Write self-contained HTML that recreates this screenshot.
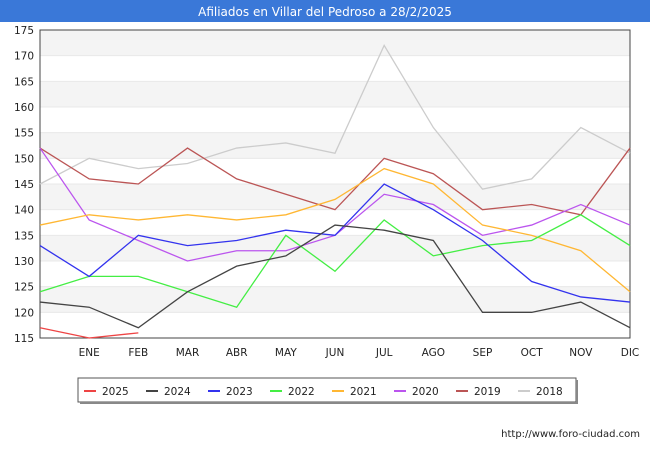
<!DOCTYPE html>
<html><head><meta charset="utf-8"><style>
body{margin:0;width:650px;height:450px;background:#fff;font-family:"DejaVu Sans","Liberation Sans",sans-serif;overflow:hidden}
svg text{font-family:"DejaVu Sans","Liberation Sans",sans-serif}
</style></head><body>
<svg width="650" height="450" xmlns="http://www.w3.org/2000/svg">
<rect x="0" y="0" width="650" height="22" fill="#3a78d8"/>
<text x="325" y="16" text-anchor="middle" fill="#fff" font-size="12">Afiliados en Villar del Pedroso a 28/2/2025</text>
<g id="bands"></g>
<g id="grid"></g>
<rect x="40" y="30" width="590" height="308" fill="none" stroke="#444" stroke-width="1"/>
<g id="series"></g>
<g id="axes"></g>
<g id="legend"></g>
<text x="640" y="437" text-anchor="end" font-size="10" fill="#222">http://www.foro-ciudad.com</text>
</svg>
<script>
const months=["","ENE","FEB","MAR","ABR","MAY","JUN","JUL","AGO","SEP","OCT","NOV","DIC"];
const yTicks=[115,120,125,130,135,140,145,150,155,160,165,170,175];
const seriesNames=["2025","2024","2023","2022","2021","2020","2019","2018"];
const colors=["#ee4444","#444444","#3333ee","#44ee44","#ffb733","#bb55ee","#bb5555","#cccccc"];
const s2025=[117,115,116];
const s2024=[122,121,117,124,129,131,137,136,134,120,120,122,117];
const s2023=[133,127,135,133,134,136,135,145,140,134,126,123,122];
const s2022=[124,127,127,124,121,135,128,138,131,133,134,139,133];
const s2021=[137,139,138,139,138,139,142,148,145,137,135,132,124];
const s2020=[152,138,134,130,132,132,135,143,141,135,137,141,137];
const s2019=[152,146,145,152,146,143,140,150,147,140,141,139,152];
const s2018=[145,150,148,149,152,153,151,172,156,144,146,156,151];
const allSeries=[s2025,s2024,s2023,s2022,s2021,s2020,s2019,s2018];
const NS="http://www.w3.org/2000/svg";
const x=i=>40+i*(590/12);
const y=v=>338-(v-115)*(308/60);
function mk(t,a,p){const e=document.createElementNS(NS,t);for(const k in a)e.setAttribute(k,a[k]);p.appendChild(e);return e;}
const bands=document.getElementById('bands'),grid=document.getElementById('grid'),axes=document.getElementById('axes'),ser=document.getElementById('series'),leg=document.getElementById('legend');
for(let i=0;i<yTicks.length-1;i++){
 if(i%2===1){const r=mk('rect',{x:40,y:y(yTicks[i+1]),width:590,height:y(yTicks[i])-y(yTicks[i+1]),fill:'#f4f4f4'},bands);
 
 }
}
yTicks.forEach(v=>{
 const l=mk('line',{x1:40,x2:630,y1:y(v),y2:y(v),stroke:'#e8e8e8'},grid);
 
 
 const t=mk('text',{x:34,y:y(v)+4,'text-anchor':'end','font-size':'10.5',fill:'#222'},axes);
 t.textContent=v;
 
 
});
months.forEach((m,i)=>{
 if(!m)return;
 const t=mk('text',{x:x(i),y:356,'text-anchor':'middle','font-size':'10.5',fill:'#222'},axes);
 t.textContent=m;
 
 
});
for(let k=allSeries.length-1;k>=0;k--){
 const d=allSeries[k].map((v,i)=>x(i)+','+y(v)).join(' ');
 const p=mk('polyline',{points:d,fill:'none',stroke:colors[k],'stroke-width':1.3},ser);
 
 
}
const lb=mk('rect',{x:78,y:378,width:498,height:24,fill:'#fff',stroke:'#555'},leg);


mk('rect',{x:80,y:402,width:498,height:2,fill:'#888'},leg);
mk('rect',{x:576,y:380,width:2,height:24,fill:'#888'},leg);
seriesNames.forEach((n,i)=>{
 const bx=84+i*62;
 const g=mk('g',{},leg);
 
 
 mk('line',{x1:bx,x2:bx+12,y1:391,y2:391,stroke:colors[i],'stroke-width':2},g);
 const t=mk('text',{x:bx+18,y:395,'font-size':'10.5',fill:'#222'},g);
 t.textContent=n;
});
</script>
</body></html>
